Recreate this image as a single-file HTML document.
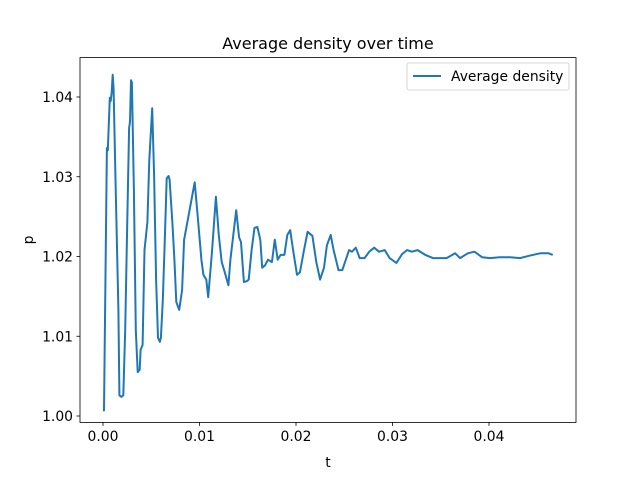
<!DOCTYPE html>
<html><head><meta charset="utf-8"><style>
body{margin:0;background:#fff}
svg{display:block;font-family:"DejaVu Sans","Liberation Sans",sans-serif}
</style></head><body>
<svg id="chart" width="640" height="480">
<rect width="640" height="480" fill="#fff"/>
<text x="328" y="49" text-anchor="middle" font-size="16">Average density over time</text>
<g id="ticks"></g>
<path id="line" fill="none" stroke="#1f77b4" stroke-width="2" stroke-linejoin="round"/>
<rect x="80" y="57.6" width="496" height="364.8" fill="none" stroke="#000" stroke-width="0.8"/>
<text x="328" y="467" text-anchor="middle" font-size="13.9">t</text>
<text x="0" y="0" transform="translate(33,240) rotate(-90)" text-anchor="middle" font-size="13.9">p</text>
<g>
<rect x="407" y="63" width="162" height="27" rx="2" fill="#fff" stroke="#ccc" stroke-width="0.8"/>
<line x1="413" y1="76" x2="441" y2="76" stroke="#1f77b4" stroke-width="2"/>
<text x="451" y="81" font-size="13.9">Average density</text>
</g>
</svg>
<script>
const tVals=[0,0.0001,0.0004,0.0005,0.0007,0.0008,0.0009,0.001,0.0011,0.0013,0.0016,0.0017,0.0019,0.0021,0.0023,0.0025,0.0027,0.0028,0.0029,0.003,0.0032,0.0034,0.0036,0.0038,0.0039,0.0041,0.0043,0.0046,0.0048,0.0051,0.0053,0.0055,0.0057,0.0059,0.006,0.0062,0.0064,0.0066,0.0068,0.0069,0.0072,0.0074,0.0076,0.0079,0.0082,0.0084,0.0095,0.0098,0.0102,0.0104,0.0107,0.0109,0.0113,0.0117,0.012,0.0123,0.0126,0.013,0.0132,0.0138,0.0141,0.0143,0.0146,0.0149,0.0151,0.0154,0.0157,0.016,0.0163,0.0165,0.0168,0.0171,0.0175,0.0178,0.0181,0.0184,0.0188,0.0191,0.0194,0.0197,0.0201,0.0204,0.0208,0.0212,0.0217,0.0221,0.0225,0.0229,0.0232,0.0236,0.0239,0.0244,0.0248,0.0255,0.0258,0.0262,0.0266,0.0271,0.0276,0.0281,0.0286,0.0292,0.0297,0.0304,0.031,0.0315,0.032,0.0326,0.0334,0.0342,0.0349,0.0356,0.0365,0.037,0.0378,0.0385,0.0393,0.0401,0.0411,0.0422,0.0432,0.0442,0.0453,0.0462,0.0466];
const pVals=[1.0007,1.0007,1.0336,1.0333,1.0399,1.0395,1.0406,1.0428,1.041,1.0296,1.0133,1.0026,1.0024,1.0026,1.0108,1.0233,1.0361,1.0369,1.0421,1.0418,1.0283,1.0108,1.0055,1.0058,1.0083,1.0089,1.0208,1.0243,1.0321,1.0386,1.0302,1.0171,1.0098,1.0093,1.0098,1.0145,1.0221,1.0298,1.0301,1.0296,1.024,1.0196,1.0143,1.0133,1.0158,1.0221,1.0293,1.0252,1.0196,1.0177,1.0171,1.0149,1.0206,1.0275,1.0227,1.0193,1.0181,1.0164,1.0196,1.0258,1.0224,1.0218,1.0168,1.0169,1.0171,1.0208,1.0236,1.0237,1.0221,1.0186,1.0189,1.0196,1.0193,1.0221,1.0196,1.0202,1.0202,1.0227,1.0233,1.0208,1.0177,1.018,1.0206,1.0231,1.0226,1.0193,1.0171,1.0186,1.0214,1.0227,1.0208,1.0183,1.0183,1.0208,1.0206,1.0211,1.0198,1.0198,1.0206,1.0211,1.0206,1.0208,1.0198,1.0192,1.0203,1.0208,1.0206,1.0208,1.0202,1.0198,1.0198,1.0198,1.0204,1.0198,1.0204,1.0206,1.0199,1.0198,1.0199,1.0199,1.0198,1.0201,1.0204,1.0204,1.0202];
const xTicks=[0,0.01,0.02,0.03,0.04];
const xTickLabels=["0.00","0.01","0.02","0.03","0.04"];
const yTicks=[1.00,1.01,1.02,1.03,1.04];
const yTickLabels=["1.00","1.01","1.02","1.03","1.04"];
const X=t=>103+t*9650;
const Y=p=>416-(p-1)*7975;
const ns="http://www.w3.org/2000/svg";
let d="";
tVals.forEach((t,i)=>{d+=(i?"L":"M")+X(t).toFixed(1)+","+Y(pVals[i]).toFixed(1);});
document.getElementById("line").setAttribute("d",d);
const g=document.getElementById("ticks");
xTicks.forEach((v,i)=>{
 const l=document.createElementNS(ns,"line");
 l.setAttribute("x1",X(v));l.setAttribute("x2",X(v));l.setAttribute("y1",422.4);l.setAttribute("y2",425.9);
 l.setAttribute("stroke","#000");l.setAttribute("stroke-width","0.8");
 
 
 g.appendChild(l);
 const tx=document.createElementNS(ns,"text");
 tx.setAttribute("x",X(v));tx.setAttribute("y",441);tx.setAttribute("text-anchor","middle");tx.setAttribute("font-size","13.9");
 tx.textContent=xTickLabels[i];
 
 
 g.appendChild(tx);
});
yTicks.forEach((v,i)=>{
 const l=document.createElementNS(ns,"line");
 l.setAttribute("x1",76.5);l.setAttribute("x2",80);l.setAttribute("y1",Y(v));l.setAttribute("y2",Y(v));
 l.setAttribute("stroke","#000");l.setAttribute("stroke-width","0.8");
 
 
 g.appendChild(l);
 const tx=document.createElementNS(ns,"text");
 tx.setAttribute("x",73);tx.setAttribute("y",Y(v)+5);tx.setAttribute("text-anchor","end");tx.setAttribute("font-size","13.9");
 tx.textContent=yTickLabels[i];
 
 
 g.appendChild(tx);
});
</script>
</body></html>
